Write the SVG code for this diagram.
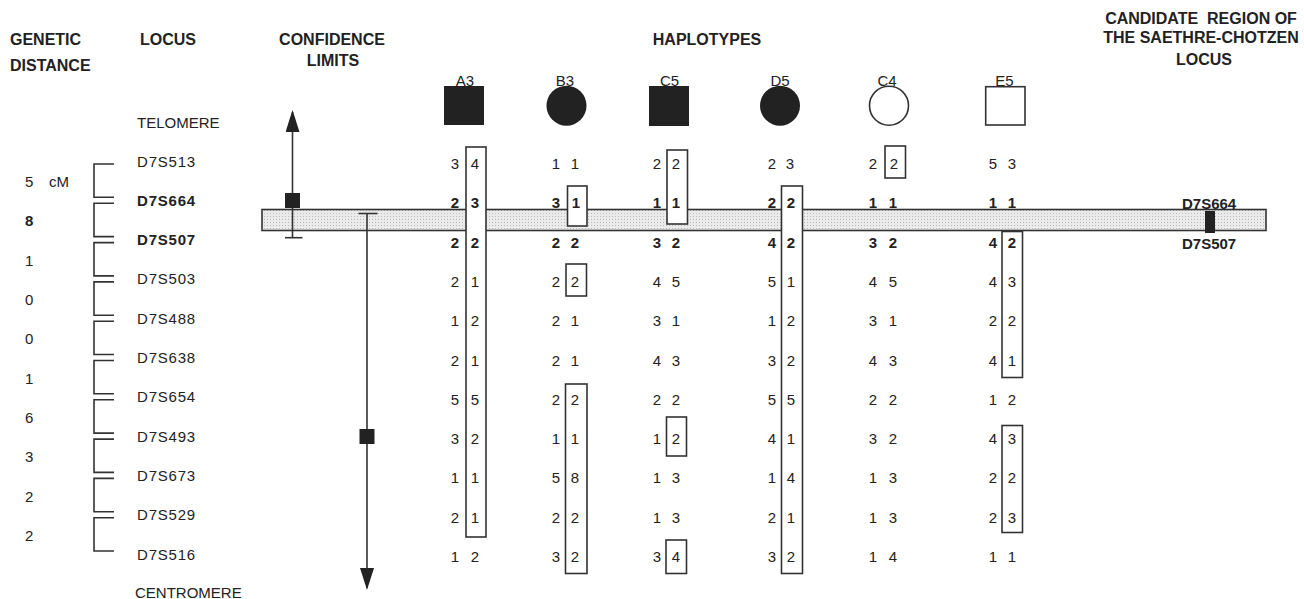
<svg xmlns="http://www.w3.org/2000/svg" width="1304" height="599" viewBox="0 0 1304 599">
  <style>
    text { font-family: "Liberation Sans", Arial, sans-serif; fill: #222; }
    .hd { font-size: 16px; font-weight: bold; }
    .lab { font-size: 15px; }
    .locus { font-size: 15px; letter-spacing: 0.8px; }
    .b { font-weight: bold; }
    .al { font-size: 15px; text-anchor: middle; }
    .mid { text-anchor: middle; }
    .bracket { fill: none; stroke: #333; stroke-width: 1.6; }
    .box { fill: #fff; stroke: #333; stroke-width: 1.6; }
    .line { fill: none; stroke: #333; stroke-width: 1.6; }
    .solid { fill: #222; }
  </style>
  <defs>
    <pattern id="stipple" width="3" height="3" patternUnits="userSpaceOnUse">
      <rect width="3" height="3" fill="#ebebeb"/>
      <rect width="1" height="1" fill="#b8b8b8"/>
    </pattern>
    <marker id="arrow" viewBox="0 0 22 14" refX="20" refY="7" markerWidth="22" markerHeight="14" markerUnits="userSpaceOnUse" orient="auto">
      <path d="M0 0 L22 7 L0 14 Z" fill="#222"/>
    </marker>
  </defs>

  <rect width="1304" height="599" fill="#fff"/>

  <!-- column headings -->
  <g id="headings">
    <text class="hd" x="10" y="45">GENETIC</text>
    <text class="hd" x="10" y="71">DISTANCE</text>
    <text class="hd" x="140" y="45">LOCUS</text>
    <text class="hd mid" x="332" y="45">CONFIDENCE</text>
    <text class="hd mid" x="333" y="66">LIMITS</text>
    <text class="hd mid" x="707" y="45">HAPLOTYPES</text>
    <text class="hd mid" x="1201" y="24" xml:space="preserve">CANDIDATE  REGION OF</text>
    <text class="hd mid" x="1201" y="43">THE SAETHRE-CHOTZEN</text>
    <text class="hd mid" x="1204" y="65">LOCUS</text>
  </g>

  <!-- genetic distances between neighbouring loci -->
  <g id="distances" class="lab">
    <text x="25" y="187">5</text><text x="49" y="187">cM</text>
    <text x="25" y="226" class="b">8</text>
    <text x="25" y="266">1</text>
    <text x="25" y="305">0</text>
    <text x="25" y="344">0</text>
    <text x="25" y="384">1</text>
    <text x="25" y="423">6</text>
    <text x="25" y="462">3</text>
    <text x="25" y="502">2</text>
    <text x="25" y="541">2</text>
  </g>

  <!-- brackets pairing adjacent loci -->
  <g id="brackets" class="bracket">
    <path d="M114 164 H94 V197.3 H114"/>
    <path d="M114 203.3 H94 V236.6 H114"/>
    <path d="M114 242.6 H94 V275.9 H114"/>
    <path d="M114 281.9 H94 V315.2 H114"/>
    <path d="M114 321.2 H94 V354.5 H114"/>
    <path d="M114 360.5 H94 V393.8 H114"/>
    <path d="M114 399.8 H94 V433.1 H114"/>
    <path d="M114 439.1 H94 V472.4 H114"/>
    <path d="M114 478.4 H94 V511.7 H114"/>
    <path d="M114 517.7 H94 V551 H114"/>
  </g>

  <!-- locus names -->
  <g id="loci" class="locus">
    <text x="137" y="128" style="letter-spacing:0">TELOMERE</text>
    <text x="137" y="166.5">D7S513</text>
    <text x="137" y="205.8" class="b">D7S664</text>
    <text x="137" y="245.1" class="b">D7S507</text>
    <text x="137" y="284.4">D7S503</text>
    <text x="137" y="323.7">D7S488</text>
    <text x="137" y="363">D7S638</text>
    <text x="137" y="402.3">D7S654</text>
    <text x="137" y="441.6">D7S493</text>
    <text x="137" y="480.9">D7S673</text>
    <text x="137" y="520.2">D7S529</text>
    <text x="137" y="559.5">D7S516</text>
    <text x="135" y="598" style="letter-spacing:0">CENTROMERE</text>
  </g>

  <!-- shared region band -->
  <g id="band">
    <rect x="262" y="209.5" width="1004" height="21" fill="url(#stipple)" stroke="#333" stroke-width="1.6"/>
    <rect x="1205" y="211" width="10" height="22" class="solid"/>
    <text x="1182" y="209" class="lab b">D7S664</text>
    <text x="1182" y="249" class="lab b">D7S507</text>
  </g>

  <!-- confidence limits -->
  <g id="connectors">
    <line class="line" x1="292.5" y1="237.7" x2="292.5" y2="112" marker-end="url(#arrow)"/>
    <line class="line" x1="285" y1="237.7" x2="302.5" y2="237.7"/>
    <line class="line" x1="367" y1="213.5" x2="367" y2="588" marker-end="url(#arrow)"/>
    <line class="line" x1="358.5" y1="213.5" x2="377.5" y2="213.5"/>
  </g>
  <g id="limit-upper"><rect x="285" y="193" width="15" height="15" class="solid"/></g>
  <g id="limit-lower"><rect x="359.5" y="429" width="15" height="15" class="solid"/></g>

  <!-- haplotype A3 -->
  <g id="hap-A3">
    <rect x="444" y="86" width="40" height="39" class="solid"/>
    <text class="lab mid" x="465" y="86">A3</text>
    <rect x="466" y="147" width="20" height="390" class="box"/>
    <g class="al">
      <text x="455" y="169">3</text><text x="475" y="169">4</text>
      <text x="455" y="208.3" class="b">2</text><text x="475" y="208.3" class="b">3</text>
      <text x="455" y="247.6" class="b">2</text><text x="475" y="247.6" class="b">2</text>
      <text x="455" y="286.9">2</text><text x="475" y="286.9">1</text>
      <text x="455" y="326.2">1</text><text x="475" y="326.2">2</text>
      <text x="455" y="365.5">2</text><text x="475" y="365.5">1</text>
      <text x="455" y="404.8">5</text><text x="475" y="404.8">5</text>
      <text x="455" y="444.1">3</text><text x="475" y="444.1">2</text>
      <text x="455" y="483.4">1</text><text x="475" y="483.4">1</text>
      <text x="455" y="522.7">2</text><text x="475" y="522.7">1</text>
      <text x="455" y="562">1</text><text x="475" y="562">2</text>
    </g>
  </g>

  <!-- haplotype B3 -->
  <g id="hap-B3">
    <circle cx="566.5" cy="105.7" r="20" class="solid"/>
    <text class="lab mid" x="565" y="86">B3</text>
    <rect x="567.5" y="186" width="19.5" height="40" class="box"/>
    <rect x="566" y="264" width="20.5" height="32" class="box"/>
    <rect x="565.5" y="384" width="21.5" height="189.5" class="box"/>
    <g class="al">
      <text x="556" y="169">1</text><text x="575" y="169">1</text>
      <text x="556" y="208.3" class="b">3</text><text x="576" y="208.3" class="b">1</text>
      <text x="556" y="247.6" class="b">2</text><text x="575" y="247.6" class="b">2</text>
      <text x="556" y="286.9">2</text><text x="575" y="286.9">2</text>
      <text x="556" y="326.2">2</text><text x="575" y="326.2">1</text>
      <text x="556" y="365.5">2</text><text x="575" y="365.5">1</text>
      <text x="556" y="404.8">2</text><text x="575" y="404.8">2</text>
      <text x="556" y="444.1">1</text><text x="575" y="444.1">1</text>
      <text x="556" y="483.4">5</text><text x="575" y="483.4">8</text>
      <text x="556" y="522.7">2</text><text x="575" y="522.7">2</text>
      <text x="556" y="562">3</text><text x="575" y="562">2</text>
    </g>
  </g>

  <!-- haplotype C5 -->
  <g id="hap-C5">
    <rect x="649" y="86" width="40" height="40" class="solid"/>
    <text class="lab mid" x="669.5" y="86">C5</text>
    <rect x="667" y="150" width="20.5" height="74" class="box"/>
    <rect x="666.5" y="417" width="20" height="39" class="box"/>
    <rect x="666" y="540" width="20.5" height="33.5" class="box"/>
    <g class="al">
      <text x="657" y="169">2</text><text x="676" y="169">2</text>
      <text x="657" y="208.3" class="b">1</text><text x="676" y="208.3" class="b">1</text>
      <text x="657" y="247.6" class="b">3</text><text x="676" y="247.6" class="b">2</text>
      <text x="657" y="286.9">4</text><text x="676" y="286.9">5</text>
      <text x="657" y="326.2">3</text><text x="676" y="326.2">1</text>
      <text x="657" y="365.5">4</text><text x="676" y="365.5">3</text>
      <text x="657" y="404.8">2</text><text x="676" y="404.8">2</text>
      <text x="657" y="444.1">1</text><text x="676" y="444.1">2</text>
      <text x="657" y="483.4">1</text><text x="676" y="483.4">3</text>
      <text x="657" y="522.7">1</text><text x="676" y="522.7">3</text>
      <text x="657" y="562">3</text><text x="676" y="562">4</text>
    </g>
  </g>

  <!-- haplotype D5 -->
  <g id="hap-D5">
    <circle cx="780" cy="105.7" r="20" class="solid"/>
    <text class="lab mid" x="780" y="86">D5</text>
    <rect x="781.5" y="186" width="21" height="387.5" class="box"/>
    <g class="al">
      <text x="772" y="169">2</text><text x="790" y="169">3</text>
      <text x="772" y="208.3" class="b">2</text><text x="791" y="208.3" class="b">2</text>
      <text x="772" y="247.6" class="b">4</text><text x="791" y="247.6" class="b">2</text>
      <text x="772" y="286.9">5</text><text x="791" y="286.9">1</text>
      <text x="772" y="326.2">1</text><text x="791" y="326.2">2</text>
      <text x="772" y="365.5">3</text><text x="791" y="365.5">2</text>
      <text x="772" y="404.8">5</text><text x="791" y="404.8">5</text>
      <text x="772" y="444.1">4</text><text x="791" y="444.1">1</text>
      <text x="772" y="483.4">1</text><text x="791" y="483.4">4</text>
      <text x="772" y="522.7">2</text><text x="791" y="522.7">1</text>
      <text x="772" y="562">3</text><text x="791" y="562">2</text>
    </g>
  </g>

  <!-- haplotype C4 -->
  <g id="hap-C4">
    <circle cx="889" cy="105.7" r="19.5" fill="#fff" stroke="#333" stroke-width="1.6"/>
    <text class="lab mid" x="887" y="86">C4</text>
    <rect x="885" y="146" width="20.5" height="32" class="box"/>
    <g class="al">
      <text x="873" y="169">2</text><text x="894" y="169">2</text>
      <text x="873" y="208.3" class="b">1</text><text x="893" y="208.3" class="b">1</text>
      <text x="873" y="247.6" class="b">3</text><text x="893" y="247.6" class="b">2</text>
      <text x="873" y="286.9">4</text><text x="893" y="286.9">5</text>
      <text x="873" y="326.2">3</text><text x="893" y="326.2">1</text>
      <text x="873" y="365.5">4</text><text x="893" y="365.5">3</text>
      <text x="873" y="404.8">2</text><text x="893" y="404.8">2</text>
      <text x="873" y="444.1">3</text><text x="893" y="444.1">2</text>
      <text x="873" y="483.4">1</text><text x="893" y="483.4">3</text>
      <text x="873" y="522.7">1</text><text x="893" y="522.7">3</text>
      <text x="873" y="562">1</text><text x="893" y="562">4</text>
    </g>
  </g>

  <!-- haplotype E5 -->
  <g id="hap-E5">
    <rect x="985.7" y="86.7" width="39.3" height="38.3" fill="#fff" stroke="#333" stroke-width="1.6"/>
    <text class="lab mid" x="1004.5" y="86">E5</text>
    <rect x="1002" y="231.5" width="20.5" height="146" class="box"/>
    <rect x="1002" y="425.5" width="20.5" height="107" class="box"/>
    <g class="al">
      <text x="993" y="169">5</text><text x="1012" y="169">3</text>
      <text x="993" y="208.3" class="b">1</text><text x="1012" y="208.3" class="b">1</text>
      <text x="993" y="247.6" class="b">4</text><text x="1012" y="247.6" class="b">2</text>
      <text x="993" y="286.9">4</text><text x="1012" y="286.9">3</text>
      <text x="993" y="326.2">2</text><text x="1012" y="326.2">2</text>
      <text x="993" y="365.5">4</text><text x="1012" y="365.5">1</text>
      <text x="993" y="404.8">1</text><text x="1012" y="404.8">2</text>
      <text x="993" y="444.1">4</text><text x="1012" y="444.1">3</text>
      <text x="993" y="483.4">2</text><text x="1012" y="483.4">2</text>
      <text x="993" y="522.7">2</text><text x="1012" y="522.7">3</text>
      <text x="993" y="562">1</text><text x="1012" y="562">1</text>
    </g>
  </g>
</svg>
